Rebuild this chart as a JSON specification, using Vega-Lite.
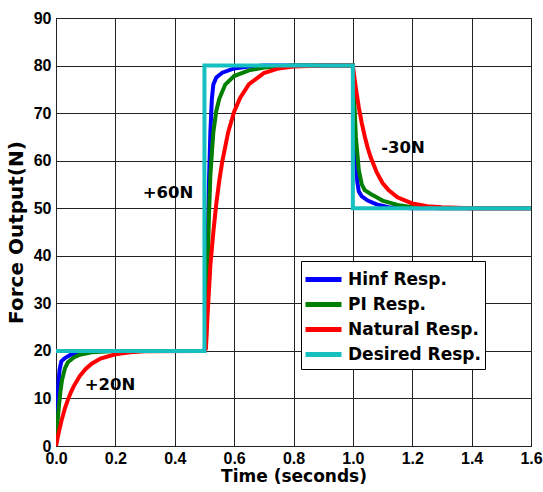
{
  "$schema": "https://vega.github.io/schema/vega-lite/v6.json",
  "width": 475,
  "height": 428,
  "autosize": "none",
  "padding": {"left": 56, "top": 18, "right": 12, "bottom": 46},
  "background": "white",
  "config": {
    "view": {"stroke": "black", "strokeWidth": 1},
    "font": "Liberation Sans",
    "axis": {
      "labelFont": "Liberation Sans", "labelFontWeight": "bold", "labelFontSize": 16, "labelColor": "black",
      "titleFont": "DejaVu Sans", "titleFontWeight": "bold", "titleFontSize": 17, "titleColor": "black",
      "grid": true, "gridColor": "#222", "gridOpacity": 1, "gridWidth": 1,
      "domain": false, "ticks": false
    }
  },
  "layer": [
    {
      "data": {"values": [
        {"s":"Hinf Resp.","i":1,"t":0,"v":0},{"s":"Hinf Resp.","i":2,"t":0.004,"v":8},{"s":"Hinf Resp.","i":3,"t":0.008,"v":13},{"s":"Hinf Resp.","i":4,"t":0.012,"v":16},{"s":"Hinf Resp.","i":5,"t":0.018,"v":17.8},{"s":"Hinf Resp.","i":6,"t":0.03,"v":18.5},{"s":"Hinf Resp.","i":7,"t":0.05,"v":19.2},{"s":"Hinf Resp.","i":8,"t":0.08,"v":19.7},{"s":"Hinf Resp.","i":9,"t":0.12,"v":20},{"s":"Hinf Resp.","i":10,"t":0.5,"v":20},{"s":"Hinf Resp.","i":11,"t":0.505,"v":22},{"s":"Hinf Resp.","i":12,"t":0.51,"v":40},{"s":"Hinf Resp.","i":13,"t":0.515,"v":55},{"s":"Hinf Resp.","i":14,"t":0.52,"v":66},{"s":"Hinf Resp.","i":15,"t":0.525,"v":73},{"s":"Hinf Resp.","i":16,"t":0.53,"v":76},{"s":"Hinf Resp.","i":17,"t":0.54,"v":77.5},{"s":"Hinf Resp.","i":18,"t":0.56,"v":78.5},{"s":"Hinf Resp.","i":19,"t":0.6,"v":79.4},{"s":"Hinf Resp.","i":20,"t":0.65,"v":79.8},{"s":"Hinf Resp.","i":21,"t":0.7,"v":80},{"s":"Hinf Resp.","i":22,"t":1.0,"v":80},{"s":"Hinf Resp.","i":23,"t":1.005,"v":68},{"s":"Hinf Resp.","i":24,"t":1.01,"v":60},{"s":"Hinf Resp.","i":25,"t":1.015,"v":55.5},{"s":"Hinf Resp.","i":26,"t":1.02,"v":53.5},{"s":"Hinf Resp.","i":27,"t":1.03,"v":52.5},{"s":"Hinf Resp.","i":28,"t":1.05,"v":51.6},{"s":"Hinf Resp.","i":29,"t":1.08,"v":50.8},{"s":"Hinf Resp.","i":30,"t":1.12,"v":50.2},{"s":"Hinf Resp.","i":31,"t":1.2,"v":50},{"s":"Hinf Resp.","i":32,"t":1.6,"v":50},
        {"s":"PI Resp.","i":1,"t":0,"v":0},{"s":"PI Resp.","i":2,"t":0.005,"v":5},{"s":"PI Resp.","i":3,"t":0.01,"v":8.5},{"s":"PI Resp.","i":4,"t":0.015,"v":11.5},{"s":"PI Resp.","i":5,"t":0.02,"v":13.8},{"s":"PI Resp.","i":6,"t":0.03,"v":16.3},{"s":"PI Resp.","i":7,"t":0.04,"v":17.6},{"s":"PI Resp.","i":8,"t":0.06,"v":18.6},{"s":"PI Resp.","i":9,"t":0.08,"v":19.2},{"s":"PI Resp.","i":10,"t":0.12,"v":19.7},{"s":"PI Resp.","i":11,"t":0.2,"v":20},{"s":"PI Resp.","i":12,"t":0.5,"v":20},{"s":"PI Resp.","i":13,"t":0.505,"v":21},{"s":"PI Resp.","i":14,"t":0.51,"v":35},{"s":"PI Resp.","i":15,"t":0.515,"v":48},{"s":"PI Resp.","i":16,"t":0.52,"v":57},{"s":"PI Resp.","i":17,"t":0.53,"v":66},{"s":"PI Resp.","i":18,"t":0.54,"v":70.5},{"s":"PI Resp.","i":19,"t":0.55,"v":73},{"s":"PI Resp.","i":20,"t":0.57,"v":76},{"s":"PI Resp.","i":21,"t":0.6,"v":77.8},{"s":"PI Resp.","i":22,"t":0.65,"v":79},{"s":"PI Resp.","i":23,"t":0.7,"v":79.6},{"s":"PI Resp.","i":24,"t":0.8,"v":80},{"s":"PI Resp.","i":25,"t":1.0,"v":80},{"s":"PI Resp.","i":26,"t":1.005,"v":72},{"s":"PI Resp.","i":27,"t":1.01,"v":65},{"s":"PI Resp.","i":28,"t":1.02,"v":58},{"s":"PI Resp.","i":29,"t":1.03,"v":55},{"s":"PI Resp.","i":30,"t":1.04,"v":53.8},{"s":"PI Resp.","i":31,"t":1.06,"v":53},{"s":"PI Resp.","i":32,"t":1.08,"v":52.3},{"s":"PI Resp.","i":33,"t":1.1,"v":51.6},{"s":"PI Resp.","i":34,"t":1.15,"v":50.7},{"s":"PI Resp.","i":35,"t":1.2,"v":50.2},{"s":"PI Resp.","i":36,"t":1.3,"v":50},{"s":"PI Resp.","i":37,"t":1.6,"v":50},
        {"s":"Natural Resp.","i":1,"t":0,"v":0},{"s":"Natural Resp.","i":2,"t":0.01,"v":3.1},{"s":"Natural Resp.","i":3,"t":0.02,"v":5.7},{"s":"Natural Resp.","i":4,"t":0.03,"v":7.9},{"s":"Natural Resp.","i":5,"t":0.04,"v":9.7},{"s":"Natural Resp.","i":6,"t":0.05,"v":11.3},{"s":"Natural Resp.","i":7,"t":0.06,"v":12.6},{"s":"Natural Resp.","i":8,"t":0.08,"v":14.7},{"s":"Natural Resp.","i":9,"t":0.1,"v":16.2},{"s":"Natural Resp.","i":10,"t":0.12,"v":17.3},{"s":"Natural Resp.","i":11,"t":0.15,"v":18.4},{"s":"Natural Resp.","i":12,"t":0.2,"v":19.3},{"s":"Natural Resp.","i":13,"t":0.25,"v":19.7},{"s":"Natural Resp.","i":14,"t":0.3,"v":19.9},{"s":"Natural Resp.","i":15,"t":0.5,"v":20},{"s":"Natural Resp.","i":16,"t":0.505,"v":20.5},{"s":"Natural Resp.","i":17,"t":0.51,"v":27},{"s":"Natural Resp.","i":18,"t":0.52,"v":38},{"s":"Natural Resp.","i":19,"t":0.53,"v":45},{"s":"Natural Resp.","i":20,"t":0.54,"v":51},{"s":"Natural Resp.","i":21,"t":0.55,"v":55.8},{"s":"Natural Resp.","i":22,"t":0.56,"v":59.8},{"s":"Natural Resp.","i":23,"t":0.58,"v":66},{"s":"Natural Resp.","i":24,"t":0.6,"v":70.3},{"s":"Natural Resp.","i":25,"t":0.62,"v":73.2},{"s":"Natural Resp.","i":26,"t":0.65,"v":76.1},{"s":"Natural Resp.","i":27,"t":0.7,"v":78.4},{"s":"Natural Resp.","i":28,"t":0.75,"v":79.4},{"s":"Natural Resp.","i":29,"t":0.8,"v":79.8},{"s":"Natural Resp.","i":30,"t":0.9,"v":80},{"s":"Natural Resp.","i":31,"t":1.0,"v":80},{"s":"Natural Resp.","i":32,"t":1.01,"v":75.3},{"s":"Natural Resp.","i":33,"t":1.02,"v":71.2},{"s":"Natural Resp.","i":34,"t":1.03,"v":67.9},{"s":"Natural Resp.","i":35,"t":1.04,"v":65.1},{"s":"Natural Resp.","i":36,"t":1.05,"v":62.7},{"s":"Natural Resp.","i":37,"t":1.06,"v":60.7},{"s":"Natural Resp.","i":38,"t":1.08,"v":57.6},{"s":"Natural Resp.","i":39,"t":1.1,"v":55.3},{"s":"Natural Resp.","i":40,"t":1.12,"v":53.8},{"s":"Natural Resp.","i":41,"t":1.15,"v":52.3},{"s":"Natural Resp.","i":42,"t":1.2,"v":51},{"s":"Natural Resp.","i":43,"t":1.25,"v":50.4},{"s":"Natural Resp.","i":44,"t":1.3,"v":50.2},{"s":"Natural Resp.","i":45,"t":1.4,"v":50},{"s":"Natural Resp.","i":46,"t":1.6,"v":50},
        {"s":"Desired Resp.","i":1,"t":0,"v":20},{"s":"Desired Resp.","i":2,"t":0.5,"v":20},{"s":"Desired Resp.","i":3,"t":0.5,"v":80},{"s":"Desired Resp.","i":4,"t":1.0,"v":80},{"s":"Desired Resp.","i":5,"t":1.0,"v":50},{"s":"Desired Resp.","i":6,"t":1.6,"v":50}
      ]},
      "mark": {"type": "line", "strokeWidth": 4, "clip": true},
      "encoding": {
        "x": {"field": "t", "type": "quantitative", "scale": {"domain": [0, 1.6], "nice": false, "zero": false}, "axis": {"values": [0,0.2,0.4,0.6,0.8,1,1.2,1.4,1.6], "title": "Time (seconds)", "labelPadding": 4, "titlePadding": 2, "labelFlush": false}},
        "y": {"field": "v", "type": "quantitative", "scale": {"domain": [0, 90], "nice": false}, "axis": {"values": [0,10,20,30,40,50,60,70,80,90], "title": "Force Output(N)", "titleFontSize": 20, "labelPadding": 5, "titlePadding": 7}},
        "order": {"field": "i", "type": "quantitative"},
        "color": {"field": "s", "type": "nominal",
          "scale": {"domain": ["Hinf Resp.", "PI Resp.", "Natural Resp.", "Desired Resp."], "range": ["#0000ff", "#007f00", "#ff0000", "#17c0c0"]},
          "legend": {"title": null, "orient": "none", "legendX": 245, "legendY": 243, "symbolType": "M-1.5,0H1.5", "symbolStrokeWidth": 5, "symbolSize": 576, "symbolOffset": 4, "labelFont": "DejaVu Sans", "labelFontWeight": "bold", "labelFontSize": 17, "labelColor": "black", "strokeColor": "black", "fillColor": "white", "padding": 4, "rowPadding": -5, "cornerRadius": 0, "labelOffset": 10}}
      }
    },
    {
      "data": {"values": [
        {"t": 0.182, "v": 12.8, "label": "+20N"},
        {"t": 0.377, "v": 53.2, "label": "+60N"},
        {"t": 1.169, "v": 62.6, "label": "-30N"}
      ]},
      "mark": {"type": "text", "font": "DejaVu Sans", "fontWeight": "bold", "fontSize": 16.5, "color": "black"},
      "encoding": {
        "x": {"field": "t", "type": "quantitative"},
        "y": {"field": "v", "type": "quantitative"},
        "text": {"field": "label"}
      }
    }
  ]
}
